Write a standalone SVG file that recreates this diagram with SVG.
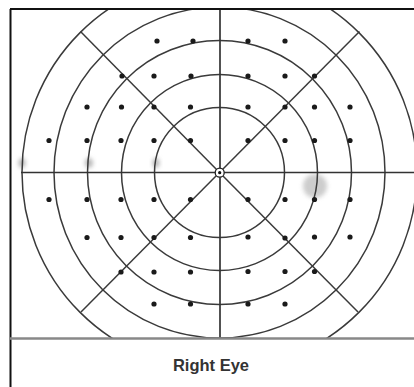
<svg xmlns="http://www.w3.org/2000/svg" width="414" height="387" viewBox="0 0 414 387">
<defs>
<clipPath id="field"><rect x="10" y="9" width="404" height="329"/></clipPath>
<filter id="blur" x="-50%" y="-50%" width="200%" height="200%"><feGaussianBlur stdDeviation="2"/></filter>
<style>
.ring{fill:none;stroke:#3a3a3a;stroke-width:1.5}
.axis{stroke:#333;stroke-width:1.7}
.diag{stroke:#3a3a3a;stroke-width:1.5}
.dot{fill:#1a1a1a}
.ghost{fill:#b8b8b8;filter:url(#blur)}
.label{font-family:"Liberation Sans",Arial,sans-serif;font-weight:bold;font-size:16.5px;fill:#333}
</style>
</defs>
<rect width="414" height="387" fill="#fff"/>
<g id="ghosts">
<ellipse class="ghost" cx="22" cy="163" rx="3.5" ry="5"/>
<ellipse class="ghost" cx="89" cy="163" rx="4" ry="5"/>
<ellipse class="ghost" cx="156" cy="163" rx="3.5" ry="5"/>
<circle class="ghost" cx="315" cy="186" r="12" opacity="0.7"/>
</g>
<g id="rings" clip-path="url(#field)">
<circle class="ring" cx="219.5" cy="172.5" r="65"/>
<circle class="ring" cx="219.5" cy="172.5" r="98"/>
<circle class="ring" cx="219.5" cy="172.5" r="132"/>
<circle class="ring" cx="219.5" cy="172.5" r="165.5"/>
<circle class="ring" cx="219.5" cy="172.5" r="197.5"/>
</g>
<g id="connectors">
<line class="axis" x1="21" y1="172.5" x2="414" y2="172.5"/>
<line class="axis" x1="220" y1="9" x2="220" y2="338"/>
<line class="diag" x1="219.5" y1="172.5" x2="80.5" y2="31.5"/>
<line class="diag" x1="219.5" y1="172.5" x2="359.5" y2="31.5"/>
<line class="diag" x1="219.5" y1="172.5" x2="81" y2="312"/>
<line class="diag" x1="219.5" y1="172.5" x2="358" y2="312"/>
</g>
<g id="frame">
<line x1="10" y1="9" x2="414" y2="9" stroke="#111" stroke-width="2"/>
<line x1="10.5" y1="9" x2="10.5" y2="387" stroke="#111" stroke-width="2"/>
<line x1="10" y1="338.5" x2="414" y2="338.5" stroke="#888" stroke-width="2.5"/>
</g>
<g id="center">
<circle cx="219.7" cy="172.7" r="4.5" fill="#fff" stroke="#222" stroke-width="1.3"/>
<circle cx="219.7" cy="172.7" r="1.6" fill="#111"/>
</g>
<g id="points">
<circle class="dot" cx="157" cy="41" r="2.6"/><circle class="dot" cx="193" cy="41" r="2.6"/><circle class="dot" cx="248" cy="41" r="2.6"/><circle class="dot" cx="285" cy="41" r="2.6"/>
<circle class="dot" cx="122" cy="76" r="2.6"/><circle class="dot" cx="154" cy="76" r="2.6"/><circle class="dot" cx="191" cy="76" r="2.6"/><circle class="dot" cx="248" cy="76" r="2.6"/><circle class="dot" cx="285" cy="76" r="2.6"/><circle class="dot" cx="314.5" cy="76" r="2.6"/>
<circle class="dot" cx="87" cy="107" r="2.6"/><circle class="dot" cx="121.5" cy="107" r="2.6"/><circle class="dot" cx="154" cy="107" r="2.6"/><circle class="dot" cx="190.5" cy="107" r="2.6"/><circle class="dot" cx="248" cy="107" r="2.6"/><circle class="dot" cx="285" cy="107" r="2.6"/><circle class="dot" cx="314.5" cy="107" r="2.6"/><circle class="dot" cx="350" cy="107" r="2.6"/>
<circle class="dot" cx="49" cy="140.5" r="2.6"/><circle class="dot" cx="87" cy="140.5" r="2.6"/><circle class="dot" cx="121" cy="140.5" r="2.6"/><circle class="dot" cx="154" cy="140.5" r="2.6"/><circle class="dot" cx="190.5" cy="140.5" r="2.6"/><circle class="dot" cx="248" cy="140.5" r="2.6"/><circle class="dot" cx="285" cy="140.5" r="2.6"/><circle class="dot" cx="314.5" cy="140.5" r="2.6"/><circle class="dot" cx="350" cy="140.5" r="2.6"/>
<circle class="dot" cx="49" cy="199.5" r="2.6"/><circle class="dot" cx="87" cy="199.5" r="2.6"/><circle class="dot" cx="121" cy="199.5" r="2.6"/><circle class="dot" cx="154" cy="199.5" r="2.6"/><circle class="dot" cx="190.5" cy="199.5" r="2.6"/><circle class="dot" cx="248" cy="199.5" r="2.6"/><circle class="dot" cx="285" cy="199.5" r="2.6"/><circle class="dot" cx="314.5" cy="199.5" r="2.6"/><circle class="dot" cx="350" cy="199.5" r="2.6"/>
<circle class="dot" cx="87" cy="237.5" r="2.6"/><circle class="dot" cx="121" cy="237.5" r="2.6"/><circle class="dot" cx="154" cy="237.5" r="2.6"/><circle class="dot" cx="190.5" cy="237.5" r="2.6"/><circle class="dot" cx="248" cy="237" r="2.6"/><circle class="dot" cx="285" cy="238" r="2.6"/><circle class="dot" cx="314.5" cy="237" r="2.6"/><circle class="dot" cx="350" cy="237" r="2.6"/>
<circle class="dot" cx="121" cy="272" r="2.6"/><circle class="dot" cx="154" cy="272" r="2.6"/><circle class="dot" cx="190.5" cy="272" r="2.6"/><circle class="dot" cx="248" cy="271.5" r="2.6"/><circle class="dot" cx="285" cy="271.5" r="2.6"/><circle class="dot" cx="314.5" cy="271.5" r="2.6"/>
<circle class="dot" cx="154" cy="304" r="2.6"/><circle class="dot" cx="190.5" cy="304" r="2.6"/><circle class="dot" cx="248" cy="304" r="2.6"/><circle class="dot" cx="285" cy="304" r="2.6"/>
</g>
<g id="caption">
<text class="label" x="211" y="371" text-anchor="middle">Right Eye</text>
</g>
</svg>
